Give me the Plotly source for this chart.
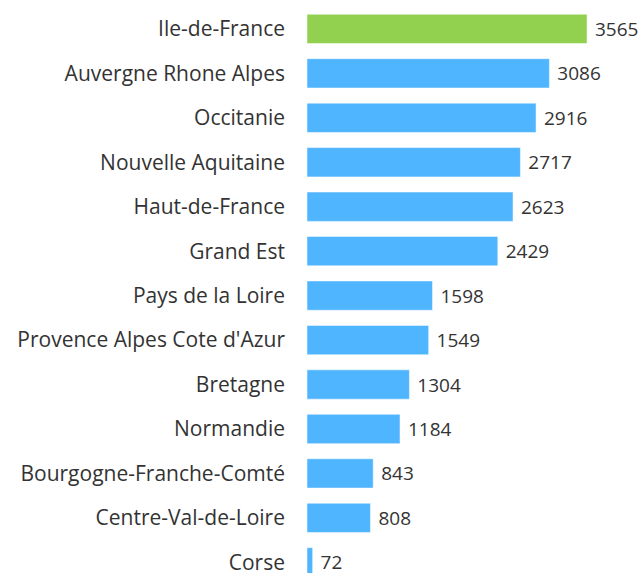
import plotly.graph_objects as go

regions = ["Ile-de-France", "Auvergne Rhone Alpes", "Occitanie", "Nouvelle Aquitaine",
           "Haut-de-France", "Grand Est", "Pays de la Loire", "Provence Alpes Cote d'Azur",
           "Bretagne", "Normandie", "Bourgogne-Franche-Comté", "Centre-Val-de-Loire", "Corse"]
values = [3565, 3086, 2916, 2717, 2623, 2429, 1598, 1549, 1304, 1184, 843, 808, 72]
colors = ["#92d050"] + ["#50b5ff"] * 12

fig = go.Figure(go.Bar(
    x=values, y=regions, orientation="h",
    marker=dict(color=colors, line=dict(color="rgba(255,255,255,0.5)", width=1)),
    text=["\u00a0" + str(v) for v in values], textposition="outside",
    textfont=dict(size=19, color="#333333", family="Open Sans"),
    cliponaxis=False,
))
fig.update_layout(
    width=641, height=576,
    margin=dict(l=307, r=0, t=0, b=0),
    plot_bgcolor="white", paper_bgcolor="white",
    bargap=0.34,
    showlegend=False,
    font=dict(family="Open Sans", size=21, color="#333333"),
)
fig.update_xaxes(range=[0, 4252], visible=False)
fig.update_yaxes(range=[12.24, -0.65], showgrid=False, showline=False,
                 ticks="", ticklabelstandoff=21, tickfont=dict(size=21, color="#333333"))
fig.write_html("out.html", config={"displayModeBar": False},
               post_script="document.body.style.margin='0px';document.body.style.overflow='hidden';")
